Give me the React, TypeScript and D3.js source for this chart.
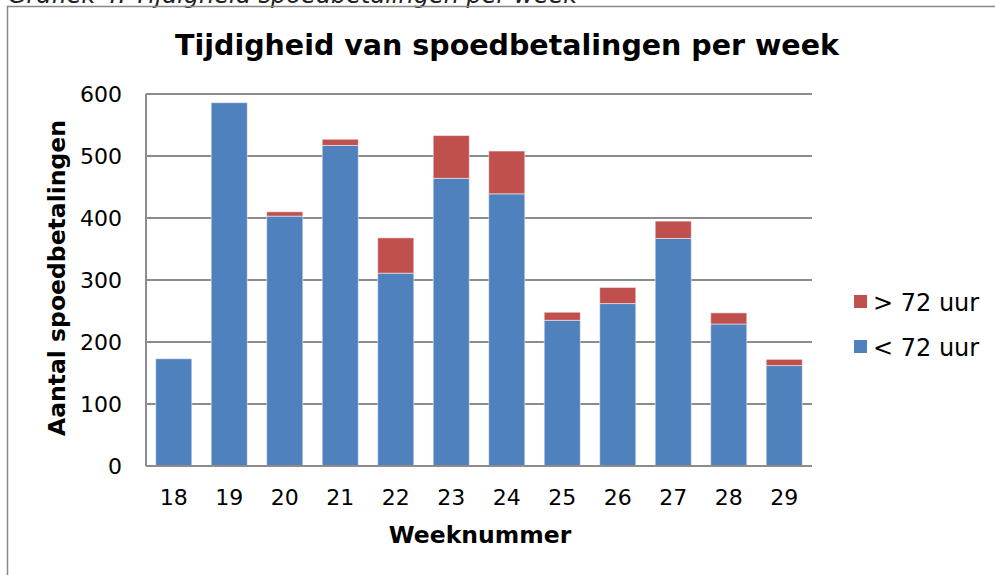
import React from "react";
import * as d3 from "d3";

const weeks = ["18", "19", "20", "21", "22", "23", "24", "25", "26", "27", "28", "29"];
const onTime = [173, 586, 403, 517, 311, 464, 439, 235, 262, 367, 229, 162];
const late = [0, 0, 7, 10, 57, 69, 69, 13, 26, 28, 18, 10];
const yTicks = [0, 100, 200, 300, 400, 500, 600];
const seriesNames = ["< 72 uur", "> 72 uur"];
const colors = ["#4F81BD", "#C0504D"];

const W = 995;
const H = 575;
const font = "Verdana, 'DejaVu Sans', sans-serif";

const App = () => {
  const plot = { left: 146, right: 812, top: 94, bottom: 466 };

  const x = d3.scaleBand().domain(weeks).range([plot.left, plot.right]).paddingInner(0.35).paddingOuter(0.175);
  const y = d3.scaleLinear().domain([0, 600]).range([plot.bottom, plot.top]);

  // stapelen: eerst < 72 uur, daarboven > 72 uur
  const rows = weeks.map((w, i) => ({ week: w, a: onTime[i], b: late[i] }));
  const stacked = d3.stack<any>().keys(["a", "b"])(rows);

  return (
    <svg width={W} height={H} style={{ position: "absolute", left: 0, top: 0 }} fontFamily={font}>
      <rect width={W} height={H} fill="#fff" />
      {/* bijschrift boven, half afgesneden */}
      <text x={8} y={3} fontSize={24} fontStyle="italic" fill="#222">
        Grafiek 4: Tijdigheid spoedbetalingen per week
      </text>
      <rect x={7.5} y={6.5} width={W + 10} height={H + 10} fill="none" stroke="#888" strokeWidth={1.5} />

      <text x={507} y={55} textAnchor="middle" fontSize={28.5} fontWeight="bold" fill="#000">
        Tijdigheid van spoedbetalingen per week
      </text>

      {yTicks.map((t) => (
        <g key={t}>
          <line x1={plot.left} x2={plot.right} y1={y(t)} y2={y(t)} stroke="#8c8c8c" strokeWidth={2} />
          <text x={122} y={y(t)} dy="0.36em" textAnchor="end" fontSize={22} fill="#000">
            {t}
          </text>
        </g>
      ))}
      <line x1={plot.left} x2={plot.left} y1={plot.top} y2={plot.bottom} stroke="#8c8c8c" strokeWidth={2} />

      {stacked.map((s, si) => (
        <g key={si} fill={colors[si]}>
          {s.map((d, i) =>
            d[1] - d[0] > 0 ? (
              <rect
                key={i}
                x={x(weeks[i])}
                y={y(d[1])}
                width={x.bandwidth()}
                height={y(d[0]) - y(d[1])}
                stroke="#fff"
                strokeOpacity={0.5}
                strokeWidth={1}
              />
            ) : null
          )}
        </g>
      ))}
      <line x1={plot.left} x2={plot.right} y1={plot.bottom} y2={plot.bottom} stroke="#8c8c8c" strokeWidth={2} />

      {weeks.map((w) => (
        <text key={w} x={(x(w) as number) + x.bandwidth() / 2} y={497} dy="0.36em" textAnchor="middle" fontSize={22} fill="#000">
          {w}
        </text>
      ))}

      <text x={480} y={535} dy="0.36em" textAnchor="middle" fontSize={23.5} fontWeight="bold" fill="#000">
        Weeknummer
      </text>
      <text
        transform={`translate(57, 278) rotate(-90)`}
        dy="0.36em"
        textAnchor="middle"
        fontSize={23.5}
        fontWeight="bold"
        fill="#000"
      >
        Aantal spoedbetalingen
      </text>

      {[1, 0].map((si, k) => (
        <g key={si} transform={`translate(854, ${295 + k * 45})`}>
          <rect width={13} height={13} fill={colors[si]} />
          <text x={19} y={7} dy="0.36em" fontSize={24} fill="#000">
            {seriesNames[si]}
          </text>
        </g>
      ))}
    </svg>
  );
};

export default App;
